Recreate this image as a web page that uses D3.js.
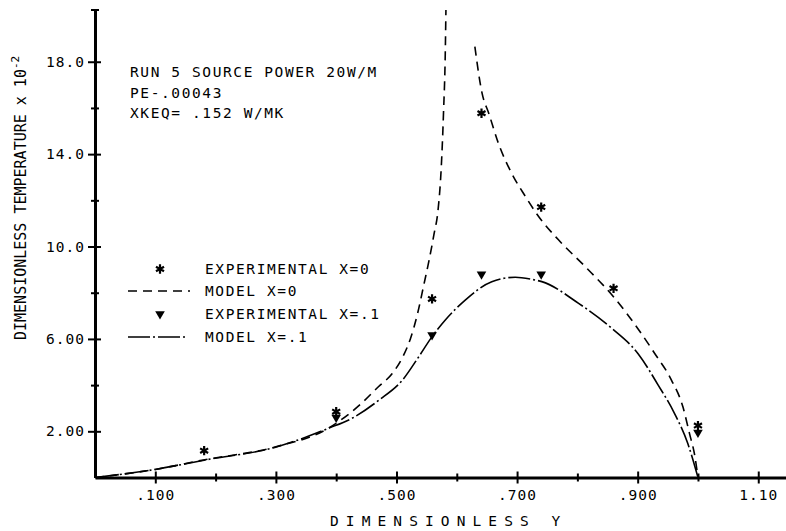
<!DOCTYPE html>
<html>
<head>
<meta charset="utf-8">
<script src="https://cdn.jsdelivr.net/npm/d3@7"></script>
<style>
  body { margin: 0; background: #fff; }
  svg { display: block; }
  text { font-family: "DejaVu Sans Mono", "Liberation Mono", monospace; fill: #000; }
</style>
</head>
<body>
<svg id="chart" width="786" height="531"></svg>
<script>
// tick values and labels
var xTickVals = [0.1, 0.3, 0.5, 0.7, 0.9, 1.1];
var xTickLabels = [".100", ".300", ".500", ".700", ".900", "1.10"];
var xMinorVals = [0.2, 0.4, 0.6, 0.8, 1.0];
var yTickVals = [2, 6, 10, 14, 18];
var yTickLabels = ["2.00", "6.00", "10.0", "14.0", "18.0"];
var yMinorVals = [4, 8, 12, 16];

// model X=0, two branches either side of the singularity
var modelX0LeftX = [0, 0.10, 0.18, 0.30, 0.387, 0.404, 0.442, 0.47, 0.493, 0.510, 0.523, 0.535, 0.545, 0.554, 0.562, 0.569, 0.574, 0.578, 0.581, 0.582];
var modelX0LeftY = [0, 0.35, 0.76, 1.33, 2.13, 2.42, 3.21, 3.93, 4.5, 5.2, 6.0, 7.1, 8.3, 9.4, 10.5, 11.6, 13.3, 15.8, 18.5, 20.24];
var modelX0RightX = [0.630, 0.642, 0.653, 0.669, 0.691, 0.714, 0.736, 0.769, 0.813, 0.862, 0.901, 0.928, 0.956, 0.975, 0.986, 0.995, 1.0];
var modelX0RightY = [18.65, 16.63, 15.77, 14.47, 13.17, 12.16, 11.29, 10.28, 9.13, 7.76, 6.42, 5.38, 4.22, 3.06, 1.9, 0.9, 0];

// model X=.1
var modelX1X = [0, 0.10, 0.183, 0.302, 0.387, 0.426, 0.471, 0.51, 0.537, 0.559, 0.581, 0.614, 0.658, 0.697, 0.724, 0.741, 0.802, 0.857, 0.901, 0.934, 0.961, 0.983, 1.0];
var modelX1Y = [0, 0.35, 0.76, 1.33, 2.13, 2.56, 3.35, 4.22, 5.23, 6.10, 6.82, 7.68, 8.48, 8.67, 8.58, 8.48, 7.54, 6.46, 5.35, 4.0, 2.78, 1.48, 0];

// experimental points
var expX0X = [0.181, 0.40, 0.559, 0.641, 0.740, 0.860, 1.0];
var expX0Y = [1.16, 2.85, 7.73, 15.77, 11.71, 8.19, 2.25];
var expX1X = [0.40, 0.559, 0.641, 0.740, 1.0];
var expX1Y = [2.6, 6.17, 8.80, 8.80, 1.95];

var notes = ["RUN 5 SOURCE POWER 20W/M", "PE-.00043", "XKEQ= .152 W/MK"];
var legendLabels = ["EXPERIMENTAL X=0", "MODEL X=0", "EXPERIMENTAL X=.1", "MODEL X=.1"];

var zip = function(xs, ys) { return xs.map(function(v, i) { return [v, ys[i]]; }); };

var svg = d3.select("#chart");
svg.append("rect").attr("width", 786).attr("height", 531).attr("fill", "#fff");

var x = d3.scaleLinear().domain([0, 1.146]).range([95, 786]);
var y = d3.scaleLinear().domain([0, 20.24]).range([477.5, 10]);

var line = d3.line()
    .x(function(d) { return x(d[0]); })
    .y(function(d) { return y(d[1]); })
    .curve(d3.curveMonotoneX);

var dashed = "9,6";
var dashDot = "22,3,2,3";

// curves
svg.append("path").datum(zip(modelX0LeftX, modelX0LeftY))
    .attr("d", line).attr("fill", "none").attr("stroke", "#000")
    .attr("stroke-width", 1.6).attr("stroke-dasharray", dashed);
svg.append("path").datum(zip(modelX0RightX, modelX0RightY))
    .attr("d", line).attr("fill", "none").attr("stroke", "#000")
    .attr("stroke-width", 1.6).attr("stroke-dasharray", dashed);
svg.append("path").datum(zip(modelX1X, modelX1Y))
    .attr("d", line).attr("fill", "none").attr("stroke", "#000")
    .attr("stroke-width", 1.6).attr("stroke-dasharray", dashDot);

// markers
var star = d3.symbol().type(d3.symbolAsterisk).size(60);
var tri = d3.symbol().type(d3.symbolTriangle).size(40);

svg.append("g").selectAll("path").data(zip(expX0X, expX0Y)).enter().append("path")
    .attr("d", star)
    .attr("transform", function(d) { return "translate(" + x(d[0]) + "," + y(d[1]) + ")"; })
    .attr("stroke", "#000").attr("stroke-width", 2.2).attr("fill", "none");
svg.append("g").selectAll("path").data(zip(expX1X, expX1Y)).enter().append("path")
    .attr("d", tri)
    .attr("transform", function(d) { return "translate(" + x(d[0]) + "," + y(d[1]) + ") rotate(180)"; })
    .attr("fill", "#000");

// axes
var xAxis = svg.append("g").attr("transform", "translate(0," + y(0) + ")")
    .call(d3.axisBottom(x).tickValues(xTickVals).tickSizeOuter(0)
        .tickFormat(function(d, i) { return xTickLabels[i]; }));
xAxis.select(".domain").attr("stroke-width", 3);
xAxis.selectAll(".tick line").attr("y1", -6).attr("y2", 6).attr("stroke-width", 2);
xAxis.selectAll(".tick text").attr("y", 12).attr("font-size", 14.5)
    .attr("letter-spacing", 1).attr("font-family", null);

var xMinor = svg.append("g").attr("transform", "translate(0," + y(0) + ")")
    .call(d3.axisBottom(x).tickValues(xMinorVals).tickSizeOuter(0).tickFormat(""));
xMinor.select(".domain").remove();
xMinor.selectAll(".tick line").attr("y1", -4).attr("y2", 4).attr("stroke-width", 2);

var yAxis = svg.append("g").attr("transform", "translate(" + x(0) + ",0)")
    .call(d3.axisLeft(y).tickValues(yTickVals).tickSizeOuter(0)
        .tickFormat(function(d, i) { return yTickLabels[i]; }));
yAxis.select(".domain").attr("stroke-width", 3);
yAxis.selectAll(".tick line").attr("x1", -7).attr("x2", 6).attr("stroke-width", 2);
yAxis.selectAll(".tick text").attr("x", -10).attr("font-size", 14.5)
    .attr("letter-spacing", 1).attr("font-family", null);

var yMinor = svg.append("g").attr("transform", "translate(" + x(0) + ",0)")
    .call(d3.axisLeft(y).tickValues(yMinorVals).tickSizeOuter(0).tickFormat(""));
yMinor.select(".domain").remove();
yMinor.selectAll(".tick line").attr("x1", -4).attr("x2", 4).attr("stroke-width", 2);

// top cap on y axis
svg.append("line").attr("x1", x(0) - 4).attr("x2", x(0) + 4)
    .attr("y1", y(20.24)).attr("y2", y(20.24)).attr("stroke", "#000").attr("stroke-width", 2);

// axis titles
svg.append("text").attr("x", 330).attr("y", 526)
    .attr("font-size", 14.5).attr("letter-spacing", 7.1)
    .text("DIMENSIONLESS Y");

var yt = svg.append("text")
    .attr("transform", "translate(26,340) rotate(-90)")
    .attr("font-size", 15).attr("letter-spacing", 0);
yt.append("tspan").text("DIMENSIONLESS TEMPERATURE  x 10");
yt.append("tspan").attr("dy", -7).attr("font-size", 11).text("-2");

// annotation
svg.append("g").selectAll("text").data(notes).enter().append("text")
    .attr("x", 130).attr("y", function(d, i) { return 77 + i * 20.5; })
    .attr("font-size", 14.5).attr("letter-spacing", 1.6)
    .text(function(d) { return d; });

// legend
var legY = [269, 291, 314, 337];
var leg = svg.append("g");
leg.selectAll("text").data(legendLabels).enter().append("text")
    .attr("x", 205).attr("y", function(d, i) { return legY[i] + 5; })
    .attr("font-size", 14.5).attr("letter-spacing", 1.6)
    .text(function(d) { return d; });
leg.append("path").attr("d", star)
    .attr("transform", "translate(160," + legY[0] + ")")
    .attr("stroke", "#000").attr("stroke-width", 2.2).attr("fill", "none");
leg.append("line").attr("x1", 128).attr("x2", 190).attr("y1", legY[1]).attr("y2", legY[1])
    .attr("stroke", "#000").attr("stroke-width", 1.6).attr("stroke-dasharray", dashed);
leg.append("path").attr("d", tri)
    .attr("transform", "translate(160," + legY[2] + ") rotate(180)")
    .attr("fill", "#000");
leg.append("line").attr("x1", 128).attr("x2", 188).attr("y1", legY[3]).attr("y2", legY[3])
    .attr("stroke", "#000").attr("stroke-width", 1.6).attr("stroke-dasharray", dashDot);
</script>
</body>
</html>
